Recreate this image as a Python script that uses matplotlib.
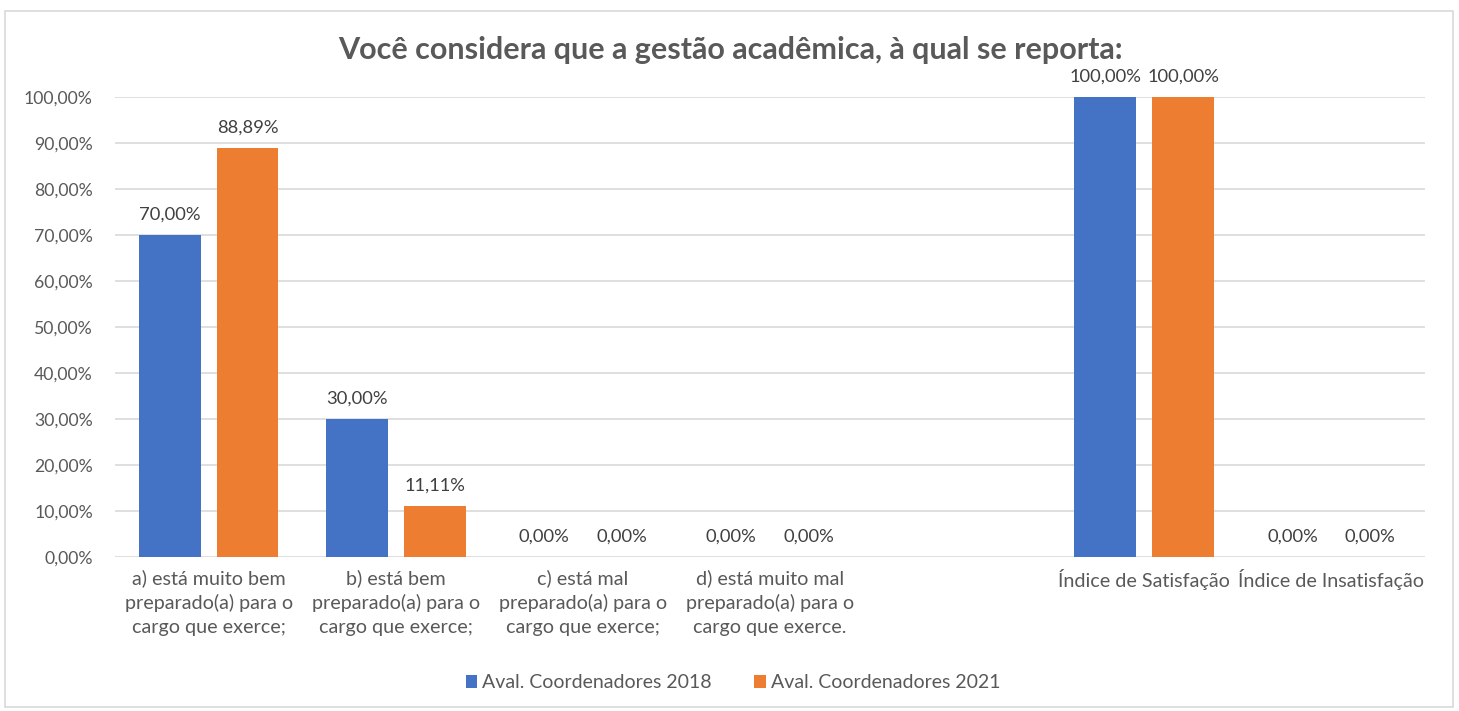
import numpy as np
import matplotlib.pyplot as plt
from matplotlib.patches import Rectangle

# dados do gráfico (em %)
categorias = ['a) está muito bem\npreparado(a) para o\ncargo que exerce;',
              'b) está bem\npreparado(a) para o\ncargo que exerce;',
              'c) está mal\npreparado(a) para o\ncargo que exerce;',
              'd) está muito mal\npreparado(a) para o\ncargo que exerce.',
              '',
              'Índice de Satisfação',
              'Índice de Insatisfação']
aval_2018 = [70.00, 30.00, 0.00, 0.00, None, 100.00, 0.00]
aval_2021 = [88.89, 11.11, 0.00, 0.00, None, 100.00, 0.00]
series = ['Aval. Coordenadores 2018', 'Aval. Coordenadores 2021']
cores = ['#4472C4', '#ED7D31']
yticks = [0, 10, 20, 30, 40, 50, 60, 70, 80, 90, 100]

plt.rcParams['font.family'] = ['Lato', 'DejaVu Sans']
cinza = '#595959'

fig = plt.figure(figsize=(14.59, 7.11), dpi=100)
ax = fig.add_axes([115/1459, 1-557/711, (1425-115)/1459, (557-97)/711])

# borda do gráfico
fig.patches.append(Rectangle((5/1459, 0.005), 1448/1459, 1-15/711, transform=fig.transFigure,
                             fill=False, edgecolor='#D9D9D9', linewidth=1.2))

x = np.arange(len(categorias))
larg = 0.33
desloc = 0.208
for i, (vals, cor, nome) in enumerate(zip([aval_2018, aval_2021], cores, series)):
    xs = [xi + (i*2-1)*desloc for xi, v in zip(x, vals) if v is not None]
    vs = [v for v in vals if v is not None]
    barras = ax.bar(xs, vs, width=larg, color=cor, label=nome, zorder=3)
    for xb, v in zip(xs, vs):
        ax.annotate(('%.2f%%' % v).replace('.', ','), xy=(xb, v), xytext=(0, 9),
                    textcoords='offset points', ha='center', va='bottom',
                    fontsize=13.2, color='#404040')

ax.set_xlim(-0.5, 6.5)
ax.set_ylim(0, 100)
ax.set_yticks(yticks)
ax.set_yticklabels([('%.2f%%' % t).replace('.', ',') for t in yticks], fontsize=12.7, color=cinza)
ax.set_xticks(x)
ax.set_xticklabels(categorias, fontsize=14.2, color=cinza, linespacing=1.45)
ax.tick_params(length=0, pad=9)
ax.tick_params(axis='y', pad=16)
ax.grid(axis='y', color='#D9D9D9', linewidth=1.2, zorder=0)
for s in ax.spines.values():
    s.set_visible(False)

fig.suptitle('Você considera que a gestão acadêmica, à qual se reporta:', x=730/1459, y=1-50/711,
             va='center', fontsize=22, fontweight='bold', color=cinza)

fig.legend(loc='center', bbox_to_anchor=(733/1459, 1-683/711), ncol=2, frameon=False,
           fontsize=14, labelcolor=cinza, handlelength=0.6, handleheight=0.6,
           handletextpad=0.25, columnspacing=2.2)

plt.savefig('out.png', dpi=100)
